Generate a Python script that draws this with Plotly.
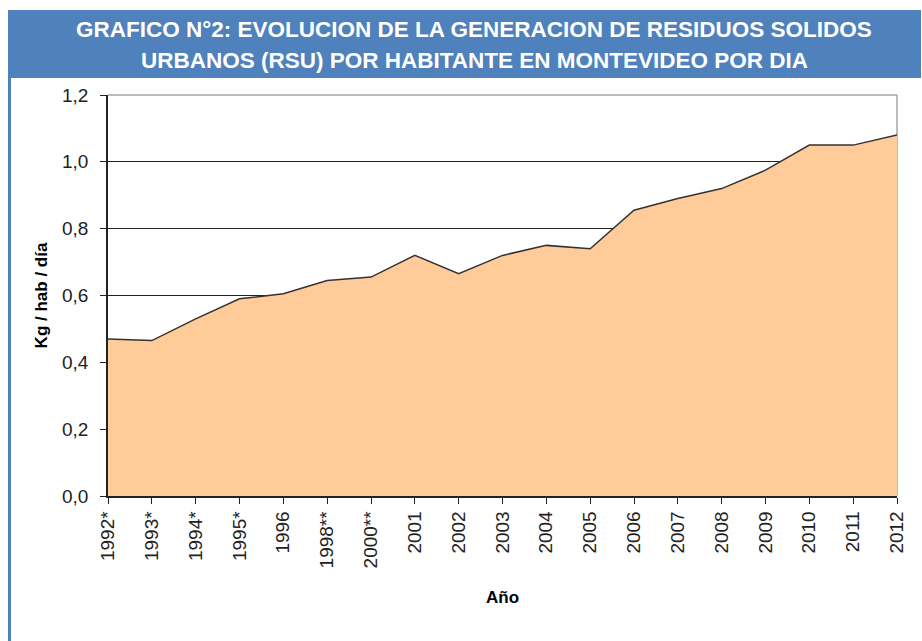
"""
Generacion de residuos solidos urbanos (RSU) por habitante en Montevideo.

Area chart, kg por habitante por dia, 1992 - 2012.
"""

import plotly.graph_objects as go


years = [
    "1992*", "1993*", "1994*", "1995*", "1996", "1998**", "2000**",
    "2001", "2002", "2003", "2004", "2005", "2006", "2007", "2008",
    "2009", "2010", "2011", "2012"
]

kg_hab_dia = [
    0.47, 0.465, 0.53, 0.59, 0.605, 0.645, 0.655,
    0.72, 0.665, 0.72, 0.75, 0.74, 0.855, 0.89, 0.92,
    0.975, 1.05, 1.05, 1.08
]

y_ticks = [0.0, 0.2, 0.4, 0.6, 0.8, 1.0, 1.2]

title_lines = [
    "GRAFICO N°2: EVOLUCION DE LA GENERACION DE RESIDUOS SOLIDOS",
    "URBANOS (RSU) POR HABITANTE EN MONTEVIDEO POR DIA"
]


W, H = 922, 641
L, R, T, B = 108, 25, 95, 145

BLUE = "#4F81BD"
FONT = "Liberation Sans, Arial, sans-serif"


def px(x):
    # pixel column -> paper x
    return (x - L) / (W - L - R)


def py(y):
    # pixel row -> paper y
    return (H - B - y) / (H - T - B)


fig = go.Figure()

fig.add_trace(

    go.Scatter(
        x=years,
        y=kg_hab_dia,
        mode="lines",
        fill="tozeroy",
        fillcolor="#FFCC99",
        line=dict(color="#333333", width=1.5),
        hoverinfo="x+y",
        showlegend=False
    )

)

shapes = [

    # title banner
    dict(type="rect", xref="paper", yref="paper",
         x0=px(8), x1=px(921), y0=py(78), y1=py(10),
         fillcolor=BLUE, line=dict(width=0), layer="below"),

    # blue rule down the left side
    dict(type="rect", xref="paper", yref="paper",
         x0=px(8), x1=px(11), y0=py(641), y1=py(78),
         fillcolor=BLUE, line=dict(width=0), layer="below"),

    # plot frame, top and right (gray)
    dict(type="line", xref="paper", yref="paper",
         x0=0, x1=1, y0=1, y1=1,
         line=dict(color="#A6A6A6", width=1.5), layer="above"),

    dict(type="line", xref="paper", yref="paper",
         x0=1, x1=1, y0=0, y1=1,
         line=dict(color="#A6A6A6", width=1.5), layer="below"),
]

# two centred white lines inside the banner
annotations = [

    dict(text=line, xref="paper", yref="paper",
         x=px(474), y=py(row), xanchor="center", yanchor="middle",
         showarrow=False,
         font=dict(family=FONT, size=22.5, color="white", weight="bold"))

    for line, row in zip(title_lines, [29, 61])
]

fig.update_layout(

    width=W,

    height=H,

    margin=dict(l=L, r=R, t=T, b=B, autoexpand=False),

    paper_bgcolor="white",

    plot_bgcolor="white",

    separators=", ",

    font=dict(family=FONT, size=18, color="#222222"),

    shapes=shapes,

    annotations=annotations,

    xaxis=dict(
        type="category",
        range=[0, len(years) - 1],
        tickangle=-90,
        ticks="outside",
        ticklen=6,
        tickcolor="#222222",
        showline=True,
        linecolor="#222222",
        linewidth=1.5,
        showgrid=False,
        automargin=False,
        tickfont=dict(size=19),
        title=dict(text="Año", standoff=24,
                   font=dict(size=17, weight="bold", color="black"))
    ),

    yaxis=dict(
        range=[0, 1.2],
        tickvals=y_ticks,
        tickformat=".1f",
        ticks="outside",
        ticklen=6,
        tickcolor="#222222",
        ticklabelstandoff=8,
        showline=True,
        linecolor="#222222",
        linewidth=1.5,
        showgrid=True,
        gridcolor="#222222",
        gridwidth=1,
        zeroline=False,
        automargin=False,
        tickfont=dict(size=19),
        title=dict(text="Kg / hab / día", standoff=10,
                   font=dict(size=17, weight="bold", color="black"))
    )

)

# page body has an 8px default margin; drop it so the figure sits at 0,0
fig.write_html(
    "out.html",
    config={"displayModeBar": False},
    post_script="document.body.style.margin = '0';"
)
